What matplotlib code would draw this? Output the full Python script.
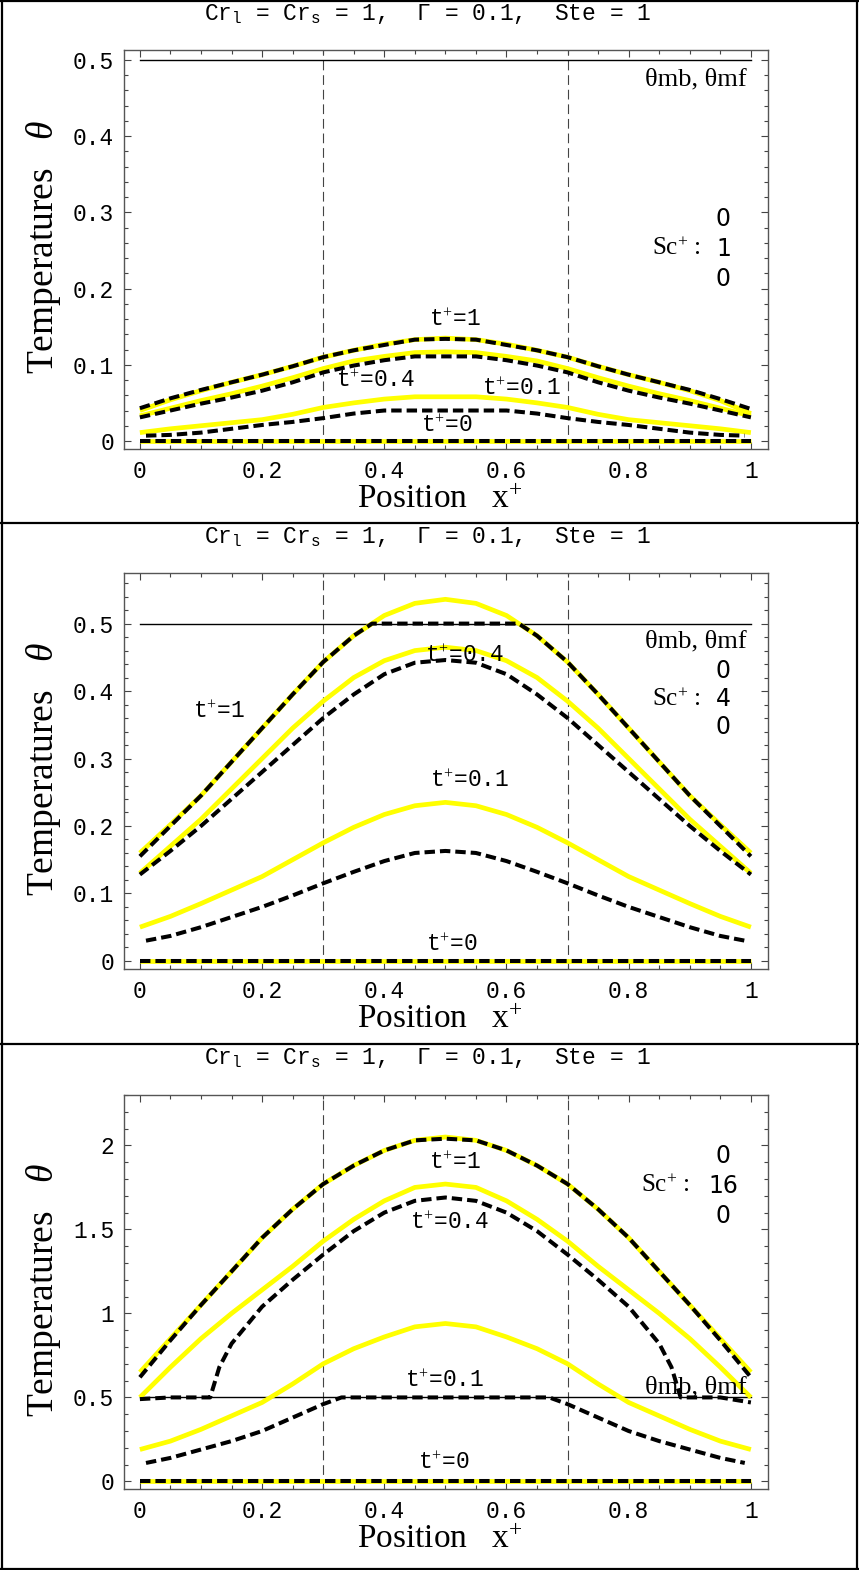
import matplotlib
matplotlib.use("Agg")
import matplotlib.pyplot as plt
from matplotlib.lines import Line2D
from matplotlib.ticker import MultipleLocator

plt.rcParams["mathtext.fontset"] = "custom"
plt.rcParams["mathtext.rm"] = "Liberation Serif"
plt.rcParams["mathtext.it"] = "Liberation Serif:italic"
plt.rcParams["mathtext.tt"] = "Liberation Mono"
plt.rcParams["lines.scale_dashes"] = False

# ---------------------------------------------------------------- data
title_text = "Cr$_{\\mathtt{l}}$ = Cr$_{\\mathtt{s}}$ = 1,  Γ = 0.1,  Ste = 1"
x_ticks = [0.0, 0.2, 0.4, 0.6, 0.8, 1.0]
x_tick_labels = ["0", "0.2", "0.4", "0.6", "0.8", "1"]
interface_x = [0.3, 0.7]
theta_melt = 0.5
time_labels = ["t$^{+}$=1", "t$^{+}$=0.4", "t$^{+}$=0.1", "t$^{+}$=0"]

x_grid = [0.0, 0.05, 0.1, 0.15, 0.2, 0.25, 0.3, 0.35, 0.4, 0.45, 0.5,
          0.55, 0.6, 0.65, 0.7, 0.75, 0.8, 0.85, 0.9, 0.95, 1.0]
x_grid_inner = [0.01, 0.05, 0.1, 0.15, 0.2, 0.25, 0.3, 0.35, 0.4, 0.45, 0.5,
                0.55, 0.6, 0.65, 0.7, 0.75, 0.8, 0.85, 0.9, 0.95, 0.99]
zeros = [0.0, 0.0, 0.0, 0.0, 0.0, 0.0, 0.0, 0.0, 0.0, 0.0, 0.0,
         0.0, 0.0, 0.0, 0.0, 0.0, 0.0, 0.0, 0.0, 0.0, 0.0]

# Sc+ = 1
sc1_y_ticks = [0.0, 0.1, 0.2, 0.3, 0.4, 0.5]
sc1_y_labels = ["0", "0.1", "0.2", "0.3", "0.4", "0.5"]
sc1_t1_b = [0.040, 0.054, 0.066, 0.077, 0.087, 0.098, 0.110, 0.119, 0.127, 0.133, 0.135,
            0.133, 0.127, 0.119, 0.110, 0.098, 0.087, 0.077, 0.066, 0.053, 0.036]
sc1_t1_f = [0.043, 0.056, 0.067, 0.077, 0.087, 0.098, 0.110, 0.119, 0.126, 0.133, 0.134,
            0.133, 0.126, 0.119, 0.110, 0.098, 0.087, 0.077, 0.067, 0.055, 0.042]
sc1_t04_b = [0.033, 0.043, 0.053, 0.062, 0.072, 0.083, 0.095, 0.105, 0.111, 0.116, 0.117,
             0.116, 0.111, 0.105, 0.095, 0.083, 0.072, 0.062, 0.053, 0.043, 0.033]
sc1_t04_f = [0.031, 0.040, 0.049, 0.057, 0.066, 0.077, 0.090, 0.099, 0.106, 0.111, 0.111,
             0.111, 0.106, 0.099, 0.090, 0.077, 0.066, 0.057, 0.049, 0.040, 0.031]
sc1_t01_b = [0.011, 0.016, 0.020, 0.024, 0.028, 0.035, 0.044, 0.050, 0.055, 0.058, 0.058,
             0.058, 0.055, 0.050, 0.044, 0.035, 0.028, 0.024, 0.020, 0.016, 0.011]
sc1_t01_f = [0.007, 0.008, 0.011, 0.016, 0.021, 0.025, 0.030, 0.036, 0.040, 0.040, 0.040,
             0.040, 0.040, 0.036, 0.030, 0.025, 0.021, 0.016, 0.011, 0.008, 0.007]

# Sc+ = 4
sc4_y_ticks = [0.0, 0.1, 0.2, 0.3, 0.4, 0.5]
sc4_y_labels = ["0", "0.1", "0.2", "0.3", "0.4", "0.5"]
sc4_t1_b = [0.160, 0.202, 0.245, 0.295, 0.345, 0.395, 0.443, 0.482, 0.512, 0.530, 0.536,
            0.530, 0.512, 0.482, 0.443, 0.395, 0.345, 0.295, 0.245, 0.202, 0.160]
sc4_t1_f_x = [0.0, 0.05, 0.1, 0.15, 0.2, 0.25, 0.3, 0.35, 0.38, 0.45, 0.5,
              0.55, 0.62, 0.65, 0.7, 0.75, 0.8, 0.85, 0.9, 0.95, 1.0]
sc4_t1_f = [0.155, 0.200, 0.245, 0.295, 0.345, 0.395, 0.443, 0.482, 0.500, 0.500, 0.500,
            0.500, 0.500, 0.482, 0.443, 0.395, 0.345, 0.295, 0.245, 0.200, 0.155]
sc4_t04_b = [0.130, 0.170, 0.210, 0.255, 0.300, 0.345, 0.385, 0.420, 0.445, 0.460, 0.465,
             0.460, 0.445, 0.420, 0.385, 0.345, 0.300, 0.255, 0.210, 0.170, 0.130]
sc4_t04_f = [0.128, 0.163, 0.200, 0.240, 0.280, 0.320, 0.360, 0.395, 0.425, 0.442, 0.446,
             0.442, 0.425, 0.395, 0.360, 0.320, 0.280, 0.240, 0.200, 0.163, 0.128]
sc4_t01_b = [0.050, 0.066, 0.085, 0.105, 0.125, 0.150, 0.175, 0.198, 0.217, 0.230, 0.235,
             0.230, 0.217, 0.198, 0.175, 0.150, 0.125, 0.105, 0.085, 0.066, 0.050]
sc4_t01_f = [0.030, 0.037, 0.050, 0.065, 0.080, 0.097, 0.115, 0.132, 0.148, 0.160, 0.163,
             0.160, 0.148, 0.132, 0.115, 0.097, 0.080, 0.065, 0.050, 0.037, 0.030]

# Sc+ = 16
sc16_y_ticks = [0.0, 0.5, 1.0, 1.5, 2.0]
sc16_y_labels = ["0", "0.5", "1", "1.5", "2"]
sc16_t1_b = [0.65, 0.85, 1.05, 1.25, 1.45, 1.62, 1.77, 1.88, 1.97, 2.03, 2.05,
             2.03, 1.97, 1.88, 1.77, 1.62, 1.45, 1.25, 1.05, 0.85, 0.65]
sc16_t1_f = [0.62, 0.84, 1.05, 1.25, 1.45, 1.62, 1.77, 1.88, 1.97, 2.03, 2.04,
             2.03, 1.97, 1.88, 1.77, 1.62, 1.45, 1.25, 1.05, 0.84, 0.62]
sc16_t04_b = [0.50, 0.68, 0.85, 1.00, 1.14, 1.28, 1.43, 1.56, 1.67, 1.75, 1.77,
              1.75, 1.67, 1.56, 1.43, 1.28, 1.14, 1.00, 0.85, 0.68, 0.50]
sc16_t04_f_x = [0.0, 0.05, 0.1, 0.115, 0.13, 0.15, 0.2, 0.25, 0.3, 0.35, 0.4, 0.45, 0.5,
                0.55, 0.6, 0.65, 0.7, 0.75, 0.8, 0.85, 0.87, 0.885, 0.9, 0.95, 1.0]
sc16_t04_f = [0.49, 0.50, 0.50, 0.50, 0.68, 0.82, 1.04, 1.20, 1.35, 1.49, 1.60, 1.67, 1.69,
              1.67, 1.60, 1.49, 1.35, 1.20, 1.04, 0.82, 0.68, 0.50, 0.50, 0.50, 0.47]
sc16_t01_b = [0.19, 0.24, 0.31, 0.39, 0.47, 0.58, 0.70, 0.79, 0.86, 0.92, 0.94,
              0.92, 0.86, 0.79, 0.70, 0.58, 0.47, 0.39, 0.31, 0.24, 0.19]
sc16_t01_f_x = [0.01, 0.05, 0.1, 0.15, 0.2, 0.25, 0.3, 0.33, 0.4, 0.5,
                0.6, 0.67, 0.7, 0.75, 0.8, 0.85, 0.9, 0.95, 0.99]
sc16_t01_f = [0.11, 0.14, 0.19, 0.24, 0.30, 0.38, 0.46, 0.50, 0.50, 0.50,
              0.50, 0.50, 0.46, 0.38, 0.30, 0.24, 0.19, 0.14, 0.11]

# ---------------------------------------------------------------- layout
W, H = 859, 1570
YELLOW = "#ffff00"
MONO = ["Liberation Mono", "DejaVu Sans Mono"]
SERIF = ["Liberation Serif", "DejaVu Serif"]

panels = [
    dict(sc="1", top=50, bottom=449, ylim=(-0.0105, 0.513), minor=0.02,
         yticks=sc1_y_ticks, ylabels=sc1_y_labels,
         curves=[(x_grid, sc1_t1_b, x_grid, sc1_t1_f),
                 (x_grid, sc1_t04_b, x_grid, sc1_t04_f),
                 (x_grid, sc1_t01_b, x_grid_inner, sc1_t01_f),
                 (x_grid, zeros, x_grid, zeros)],
         label_pos=[(0.515, 0.160), (0.385, 0.080), (0.625, 0.069), (0.502, 0.020)],
         melt_label_y=0.474, sc_y=(0.291, 0.252, 0.213)),
    dict(sc="4", top=573, bottom=969, ylim=(-0.012, 0.575), minor=0.02,
         yticks=sc4_y_ticks, ylabels=sc4_y_labels,
         curves=[(x_grid, sc4_t1_b, sc4_t1_f_x, sc4_t1_f),
                 (x_grid, sc4_t04_b, x_grid, sc4_t04_f),
                 (x_grid, sc4_t01_b, x_grid_inner, sc4_t01_f),
                 (x_grid, zeros, x_grid, zeros)],
         label_pos=[(0.13, 0.37), (0.532, 0.452), (0.54, 0.267), (0.51, 0.024)],
         melt_label_y=0.474, sc_y=(0.430, 0.388, 0.346)),
    dict(sc="16", top=1095, bottom=1489, ylim=(-0.045, 2.30), minor=0.1,
         yticks=sc16_y_ticks, ylabels=sc16_y_labels,
         curves=[(x_grid, sc16_t1_b, x_grid, sc16_t1_f),
                 (x_grid, sc16_t04_b, sc16_t04_f_x, sc16_t04_f),
                 (x_grid, sc16_t01_b, sc16_t01_f_x, sc16_t01_f),
                 (x_grid, zeros, x_grid, zeros)],
         label_pos=[(0.515, 1.90), (0.507, 1.54), (0.498, 0.60), (0.498, 0.11)],
         melt_label_y=0.56, sc_y=(1.935, 1.76, 1.58)),
]
panel_tops = [0, 523, 1044]

fig = plt.figure(figsize=(W / 100, H / 100), dpi=100)
fig.patch.set_facecolor("white")

AX_L, AX_R = 124, 768

for ptop, p in zip(panel_tops, panels):
    ax = fig.add_axes([AX_L / W, 1 - p["bottom"] / H,
                       (AX_R - AX_L) / W, (p["bottom"] - p["top"]) / H])
    ax.set_xlim(-0.026, 1.028)
    ax.set_ylim(*p["ylim"])

    # melting temperature line and interface positions
    ax.plot([0, 1], [theta_melt, theta_melt], color="black", lw=1.0, zorder=2)
    for xi in interface_x:
        ax.axvline(xi, color="#444444", lw=0.8, linestyle=(0, (7.0, 3.5)), zorder=1)

    for xb, yb, xf, yf in p["curves"]:
        ax.plot(xb, yb, color=YELLOW, lw=3.4, solid_capstyle="butt", zorder=3)
        ax.plot(xf, yf, color="black", lw=2.9, linestyle=(0, (7.5, 3.6)),
                dash_capstyle="butt", zorder=4)

    for (lx, ly), txt in zip(p["label_pos"], time_labels):
        ax.text(lx, ly, txt, ha="center", va="center", fontsize=16.5,
                family=MONO, zorder=6)

    ax.text(0.993, p["melt_label_y"], "θmb, θmf", ha="right", va="center",
            fontsize=19, family=SERIF, zorder=5)

    # Sc+ annotation as a stacked column
    for yy, val in zip(p["sc_y"], ["0", p["sc"], "0"]):
        ax.text(0.955, yy, val, ha="center", va="center", fontsize=17,
                family="DejaVu Sans")
    ax.text(0.918 if len(p["sc"]) == 1 else 0.900, p["sc_y"][1], "Sc$^{+}$ :",
            ha="right", va="center", fontsize=18, family=SERIF)

    ax.set_xticks(x_ticks)
    ax.set_xticklabels(x_tick_labels, family=MONO, fontsize=16.5)
    ax.set_yticks(p["yticks"])
    ax.set_yticklabels(p["ylabels"], family=MONO, fontsize=16.5)
    ax.xaxis.set_minor_locator(MultipleLocator(0.05))
    ax.yaxis.set_minor_locator(MultipleLocator(p["minor"]))
    ax.tick_params(which="both", direction="in", top=True, right=True,
                   color="#444444", width=0.8)
    ax.tick_params(which="major", length=5)
    ax.tick_params(which="minor", length=2.8)
    ax.tick_params(axis="y", pad=7)
    ax.tick_params(axis="x", pad=8)
    for s in ax.spines.values():
        s.set_color("#555555")
        s.set_linewidth(1.0)

    mid_y = (p["top"] + p["bottom"]) / 2
    fig.text(44 / W, 1 - (mid_y - 2) / H, "Temperatures   $\\theta$", rotation=90,
             ha="center", va="center", fontsize=27, family=SERIF)
    fig.text(440 / W, 1 - (p["bottom"] + 51) / H, "Position   x$^{+}$",
             ha="center", va="center", fontsize=24, family=SERIF)
    fig.text(428 / W, 1 - (ptop + 14) / H, title_text, ha="center", va="center",
             fontsize=16.5, family=MONO)

# panel frames
frame_kw = dict(color="black", lw=1.6, transform=fig.transFigure)
fig.add_artist(Line2D([2 / W, 2 / W], [0, 1], **frame_kw))
fig.add_artist(Line2D([857 / W, 857 / W], [0, 1], **frame_kw))
fig.add_artist(Line2D([0, 1], [1 - 1 / H, 1 - 1 / H], **frame_kw))
fig.add_artist(Line2D([0, 1], [1 / H, 1 / H], **frame_kw))
for yb in panel_tops[1:]:
    fig.add_artist(Line2D([0, 1], [1 - yb / H, 1 - yb / H], **frame_kw))

fig.savefig("out.png", dpi=100, facecolor="white")
